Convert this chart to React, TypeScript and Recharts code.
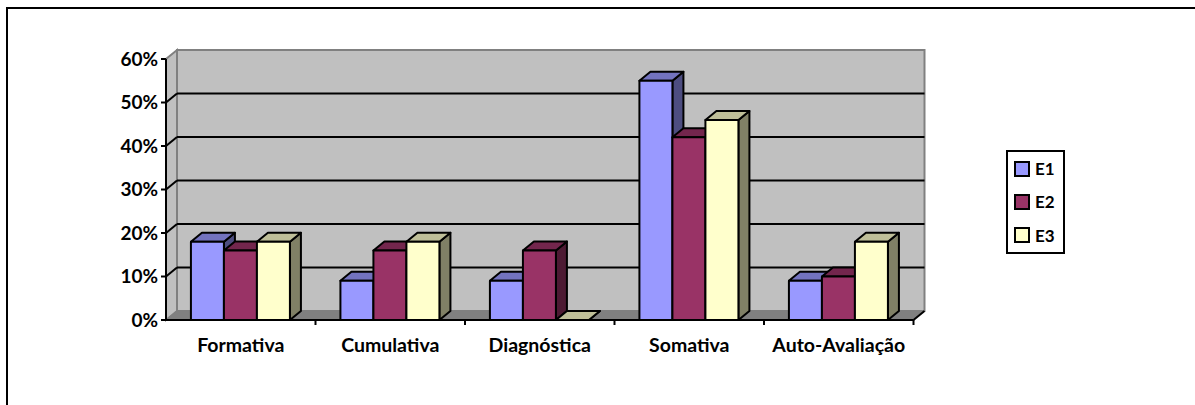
import React from "react"
import { BarChart, Bar, XAxis, YAxis, CartesianGrid, Legend, usePlotArea } from "recharts"

const categories = ["Formativa", "Cumulativa", "Diagnóstica", "Somativa", "Auto-Avaliação"]
const e1 = [18, 9, 9, 55, 9]
const e2 = [16, 16, 16, 42, 10]
const e3 = [18, 18, 0, 46, 18]
const yTicks = [0, 10, 20, 30, 40, 50, 60]

const seriesNames = ["E1", "E2", "E3"]
const seriesColors = ["#9999FF", "#993366", "#FFFFCC"]
const topColors = ["#7373BF", "#73264D", "#BFBF99"]
const sideColors = ["#4D4D80", "#4D1A33", "#808066"]

const DEPTH_X = 11
const DEPTH_Y = 9
const FONT = "Lato, Carlito, sans-serif"

const data = categories.map((name, i) => ({ name, E1: e1[i], E2: e2[i], E3: e3[i] }))

// back wall, side wall and floor of the 3D box, plus the x ticks between categories
function Walls() {
  const plot = usePlotArea()
  if (!plot) return null
  const { x, y, width, height } = plot
  const right = x + width
  const bottom = y + height
  const band = width / categories.length
  return (
    <g>
      <rect x={x + DEPTH_X} y={y - DEPTH_Y} width={width} height={height} fill="#C0C0C0" stroke="#808080" strokeWidth={2} />
      <polygon
        points={`${x},${bottom} ${x + DEPTH_X},${bottom - DEPTH_Y} ${x + DEPTH_X},${y - DEPTH_Y} ${x},${y}`}
        fill="#C0C0C0"
        stroke="#808080"
        strokeWidth={2}
      />
      <polygon
        points={`${x},${bottom} ${x + DEPTH_X},${bottom - DEPTH_Y} ${right + DEPTH_X},${bottom - DEPTH_Y} ${right},${bottom}`}
        fill="#808080"
        stroke="#808080"
      />
      <line x1={right} y1={bottom} x2={right + DEPTH_X} y2={bottom - DEPTH_Y} stroke="#000" strokeWidth={2} />
      {categories.map((_, i) => (
        <line
          key={i}
          x1={x + band * (i + 1)}
          y1={bottom}
          x2={x + band * (i + 1)}
          y2={bottom + 5}
          stroke="#000"
          strokeWidth={2}
        />
      ))}
    </g>
  )
}

// gridlines sit on the back wall, so they are pushed along the depth vector
function BackGridLine(props: any) {
  const { x1, x2, y1, y2, y, height } = props
  // top and bottom edges belong to the wall outline, not the grid
  if (Math.abs(y1 - y) < 1 || Math.abs(y1 - (y + height)) < 1) return <g key={props.key} />
  return (
    <g key={props.key}>
      <line x1={x1} y1={y1} x2={x1 + DEPTH_X} y2={y1 - DEPTH_Y} stroke="#000" strokeWidth={2} />
      <line x1={x1 + DEPTH_X} y1={y1 - DEPTH_Y} x2={x2 + DEPTH_X} y2={y2 - DEPTH_Y} stroke="#000" strokeWidth={2} />
    </g>
  )
}

function makeBar(index: number) {
  return function Box3D(props: any) {
    const { x, y, width, height } = props
    const r = x + width
    const b = y + height
    return (
      <g stroke="#000" strokeWidth={2} strokeLinejoin="round">
        <polygon
          points={`${r},${b} ${r + DEPTH_X},${b - DEPTH_Y} ${r + DEPTH_X},${y - DEPTH_Y} ${r},${y}`}
          fill={sideColors[index]}
        />
        <polygon
          points={`${x},${y} ${x + DEPTH_X},${y - DEPTH_Y} ${r + DEPTH_X},${y - DEPTH_Y} ${r},${y}`}
          fill={topColors[index]}
        />
        <rect x={x} y={y} width={width} height={height} fill={seriesColors[index]} />
      </g>
    )
  }
}

function LegendBox() {
  return (
    <div
      style={{
        width: 49,
        height: 100,
        border: "2px solid #000",
        display: "flex",
        flexDirection: "column",
        justifyContent: "space-around",
        paddingLeft: 6,
        boxSizing: "content-box",
      }}
    >
      {seriesNames.map((name, i) => (
        <div key={name} style={{ display: "flex", alignItems: "center", height: 20 }}>
          <span
            style={{
              width: 12,
              height: 12,
              background: seriesColors[i],
              border: "2px solid #000",
              marginRight: 5,
            }}
          />
          <span style={{ font: `bold 17px ${FONT}`, color: "#000" }}>{name}</span>
        </div>
      ))}
    </div>
  )
}

export default function App() {
  return (
    <div
      style={{
        position: "absolute",
        left: 0,
        top: 0,
        width: 1195,
        height: 405,
        overflow: "hidden",
        background: "#fff",
      }}
    >
      <div
        style={{
          position: "absolute",
          left: 6,
          top: 7,
          width: 1189,
          height: 398,
          borderLeft: "2px solid #000",
          borderTop: "2px solid #000",
          boxSizing: "border-box",
        }}
      />
      <div style={{ position: "absolute", left: 0, top: 0 }}>
        <BarChart
          width={1195}
          height={405}
          data={data}
          margin={{ left: 116, right: 221.5, top: 59, bottom: 45 }}
          barCategoryGap="16.67%"
          barGap={0}
        >
          <Walls />
          <CartesianGrid vertical={false} horizontal={BackGridLine as any} {...({ zIndex: 1 } as any)} />
          <XAxis
            dataKey="name"
            axisLine={{ stroke: "#000", strokeWidth: 2 }}
            tickLine={false}
            interval={0}
            tick={{ fill: "#000", fontFamily: FONT, fontWeight: 700, fontSize: 19.5 }}
            tickMargin={12}
            height={40}
          />
          <YAxis
            domain={[0, 60]}
            ticks={yTicks}
            tickFormatter={(v: number) => `${v}%`}
            axisLine={{ stroke: "#000", strokeWidth: 2 }}
            tickLine={{ stroke: "#000", strokeWidth: 2 }}
            tickSize={5}
            tick={{ fill: "#000", fontFamily: FONT, fontWeight: 700, fontSize: 19 }}
            tickMargin={3}
            width={50}
          />
          {seriesNames.map((name, i) => (
            <Bar key={name} dataKey={name} shape={makeBar(i)} isAnimationActive={false} />
          ))}
          <Legend
            layout="vertical"
            align="right"
            verticalAlign="top"
            content={<LegendBox />}
            wrapperStyle={{ left: 1006, top: 150, width: 60 }}
          />
        </BarChart>
      </div>
    </div>
  )
}
